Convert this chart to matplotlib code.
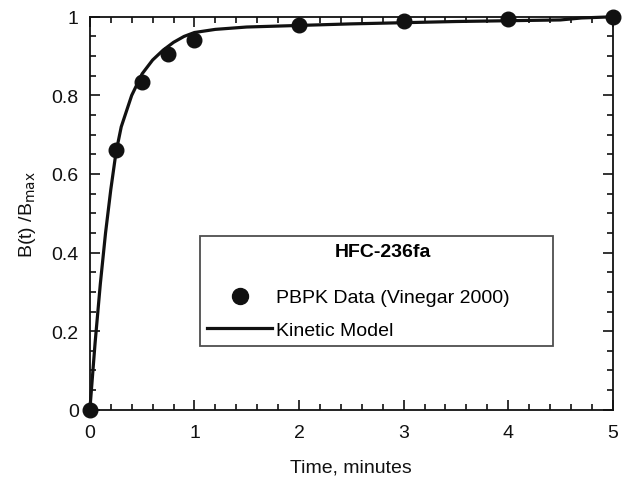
import numpy as np
import matplotlib
matplotlib.use("Agg")
import matplotlib.pyplot as plt
from matplotlib.ticker import MultipleLocator
from matplotlib.lines import Line2D

plt.rcParams['font.family'] = ['Liberation Sans', 'DejaVu Sans']

# ── Data ──────────────────────────────────────────────────────────────────────
pbpk_t = [0, 0.25, 0.5, 0.75, 1.0, 2.0, 3.0, 4.0, 5.0]
pbpk_b = [0.0, 0.66, 0.835, 0.905, 0.94, 0.98, 0.99, 0.995, 1.0]

model_t = [0, 0.05, 0.1, 0.15, 0.2, 0.25, 0.3, 0.4, 0.5, 0.6, 0.7, 0.8, 0.9,
           1.0, 1.2, 1.5, 2.0, 2.5, 3.0, 3.5, 4.0, 4.5, 4.7, 5.0]
model_b = [0.0, 0.17, 0.32, 0.45, 0.56, 0.655, 0.72, 0.80, 0.855, 0.89, 0.915,
           0.935, 0.95, 0.96, 0.968, 0.974, 0.978, 0.982, 0.985, 0.988, 0.99,
           0.992, 0.997, 1.0]

# ── Figure ────────────────────────────────────────────────────────────────────
fig = plt.figure(figsize=(6.24, 4.81), dpi=100)
ax = fig.add_axes([0.144, 0.146, 0.838, 0.817])

ax.plot(model_t, model_b, color='#111111', lw=2.3, zorder=2, clip_on=False)
ax.plot(pbpk_t, pbpk_b, 'o', color='#111111', ms=10.5, zorder=3, clip_on=False)

ax.set_xlim(0, 5)
ax.set_ylim(0, 1)
ax.xaxis.set_major_locator(MultipleLocator(1))
ax.xaxis.set_minor_locator(MultipleLocator(0.2))
ax.yaxis.set_minor_locator(MultipleLocator(0.05))
ax.set_yticks([0, 0.2, 0.4, 0.6, 0.8, 1.0])
ax.set_yticklabels(['0', '0.2', '0.4', '0.6', '0.8', '1'])
ax.tick_params(which='both', direction='in', top=True, right=True,
               labelsize=14, width=1.2, colors='#111111')
ax.tick_params(which='major', length=7)
ax.tick_params(which='minor', length=4)
ax.tick_params(axis='x', which='major', pad=10)
ax.tick_params(axis='y', which='major', pad=8)
for s in ax.spines.values():
    s.set_linewidth(1.3)
    s.set_color('#111111')

ax.set_xlabel('Time, minutes', fontsize=14, labelpad=13, color='#111111')
ax.set_ylabel(r'B(t) /B$_{\mathrm{max}}$', fontsize=14, labelpad=10,
              color='#111111')

handles = [Line2D([], [], marker='o', ls='none', color='#111111', ms=11.5),
           Line2D([], [], color='#111111', lw=2.3)]
leg = ax.legend(handles, ['PBPK Data (Vinegar 2000)', 'Kinetic Model'],
                title='HFC-236fa\n', loc='upper left',
                bbox_to_anchor=(0.210, 0.443, 0.675, 0.0),
                mode='expand', fontsize=14, frameon=True, fancybox=False,
                edgecolor='#222222', handlelength=3.3, borderpad=0.4,
                borderaxespad=0, labelspacing=0.75, handletextpad=0.2)
title = leg.get_title()
title.set_fontweight('bold')
title.set_fontsize(14)
title.set_linespacing(0.75)
title.set_position((7, 0))
leg.get_frame().set_linewidth(1.3)

fig.savefig('out.png', dpi=100)
